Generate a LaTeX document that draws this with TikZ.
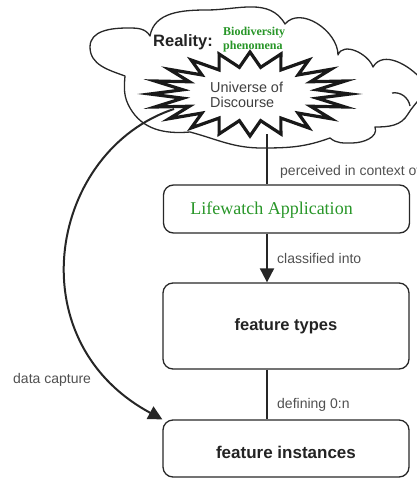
\documentclass[tikz,border=0pt]{standalone}
\usepackage{fontspec}
\setmainfont{Liberation Sans}
\newfontfamily\serifface{Liberation Serif}
\usetikzlibrary{arrows.meta}
\definecolor{lwgreen}{RGB}{40,150,40}
\definecolor{linegray}{RGB}{40,40,40}
\definecolor{labelgray}{RGB}{80,80,80}
\definecolor{textdark}{RGB}{35,35,35}
\begin{document}
\begin{tikzpicture}[x=1pt,y=-1pt,
  box/.style={draw=linegray, line width=1.3pt, rounded corners=10pt, minimum width=246pt, inner sep=0pt},
  lbl/.style={text=labelgray, font=\fontsize{14}{16}\selectfont, inner sep=0pt, anchor=west},
  conn/.style={draw=black!85, line width=2pt},
  tip/.style={-{Triangle[length=14pt,width=14pt]}},
  boxtext/.style={text=textdark, font=\bfseries\fontsize{16.5}{19}\selectfont, inner sep=0pt}]
\useasboundingbox (0,0) rectangle (417,479);
% cloud
\draw[line width=1.3pt, draw=linegray, fill=white, line join=round]
  (125,76) to[out=160,in=270] (90,47) to[out=90,in=180] (128,28)
  to[out=0,in=120] (150,36) to[out=80,in=180] (207,10) to[out=0,in=120] (285,24)
  to[out=50,in=90] (338,55) to[out=70,in=110] (373,67)
  to[out=60,in=130] (422,80) to[out=-50,in=60] (408,114) to[out=-120,in=0] (375,127)
  to[out=-70,in=0] (352,143) to[out=180,in=-40] (330,138)
  to[out=200,in=0] (262,148) to[out=180,in=-15] (190,132)
  to[out=185,in=-60] (130,108) to[out=120,in=-95] (125,76) -- cycle;
\draw[line width=1.3pt, draw=linegray] (392,93) to[out=10,in=100] (410,106);
% explosion
\draw[line width=3.2pt, draw=black!90, fill=white, line join=miter, miter limit=20]
  plot[samples at={0,...,39}] ({250+ifthenelse(mod(\x,2)==0,100,68)*cos(\x*9)},
                               {94+ifthenelse(mod(\x,2)==0,42,27)*sin(\x*9)}) -- cycle;
\coordinate (uodS) at (267,134);
\coordinate (uodW) at (174,109);
\node[anchor=west, align=left, inner sep=0pt, text=black!75, font=\fontsize{14.4}{15.5}\selectfont] (uod) at (210,95) {Universe of\\Discourse};
\node[anchor=center, inner sep=0pt, text=textdark, font=\bfseries\fontsize{16.5}{19}\selectfont] (reality) at (183,42) {Reality:};
\node[anchor=west, align=left, inner sep=0pt, text=lwgreen, font=\serifface\bfseries\fontsize{12}{14.5}\selectfont] (bio) at (223,39.5) {Biodiversity\\phenomena};
% boxes
\node[box, minimum height=48pt] (lifewatch) at (286.5,209) {};
\node[inner sep=0pt, text=lwgreen, font=\serifface\fontsize{18}{20}\selectfont] (lwtext) at (271.5,210) {Lifewatch Application};
\node[box, minimum height=86pt] (ftypes) at (286,326) {};
\node[boxtext] (fttext) at (286,326) {feature types};
\node[box, minimum height=57pt] (finst) at (286,448.5) {};
\node[boxtext, font=\bfseries\fontsize{17}{19}\selectfont] (fitext) at (286,452) {feature instances};
% connectors
\draw[conn] (uodS) -- (uodS |- lifewatch.north);
\draw[conn, tip] (lifewatch.south -| uodS) -- (ftypes.north -| uodS);
\draw[conn] (ftypes.south -| uodS) -- (finst.north -| uodS);
\draw[conn, tip] (uodW) .. controls (50,150) and (15,340) .. (finst.north west);
% labels
\node[lbl] (lperc) at (280,172) {perceived in context of};
\node[lbl] (lclass) at (277,258) {classified into};
\node[lbl] (ldef) at (277,405) {defining 0:n};
\node[lbl] (ldata) at (13,380) {data capture};
\end{tikzpicture}
\end{document}
